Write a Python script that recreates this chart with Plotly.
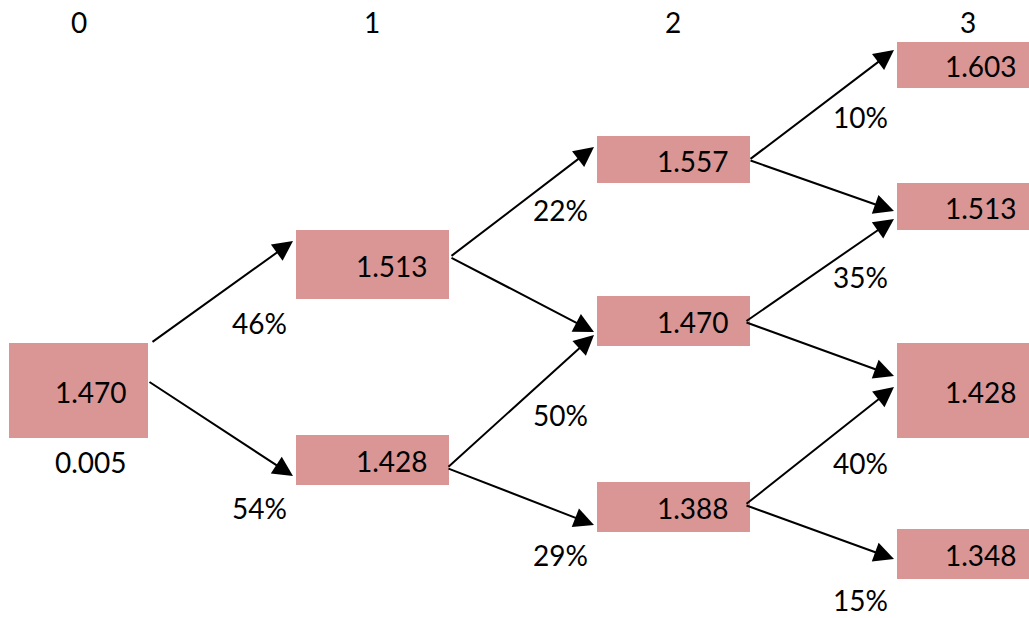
import plotly.graph_objects as go

# ---------------- DATA ----------------
level_labels = ["0", "1", "2", "3"]
node_values = [
    [1.470],
    [1.513, 1.428],
    [1.557, 1.470, 1.388],
    [1.603, 1.513, 1.428, 1.348],
]
node_probs = [
    [None],
    [46, 54],
    [22, 50, 29],
    [10, 35, 40, 15],
]
root_note = "0.005"

# ---------------- LAYOUT (positions / sizes / styles) ----------------
W, H = 1029, 618
col_left = [9, 296, 597, 897]
col_right = [148, 449, 750, 1040]
text_right = [129, 430, 731, 1019]
header_x = [79, 372, 673, 968]
header_y = 22
box_top = [[343], [230, 435], [136, 296, 482], [42, 183, 343, 529]]
box_bot = [[438], [299, 485], [183, 346, 532], [88, 230, 438, 579]]
# arrow anchors: (start y on parent, end y on child) for child i and i+1
arrow_start = [[(343, 381)], [(257, 257), (468, 468)],
               [(160, 160), (322, 322), (505, 505)]]
arrow_end = [[(241, 476)], [(147, 332), (335, 525)],
             [(50, 211), (219, 376), (387, 559)]]
start_x = [[(151, 148)], [(450, 450), (447, 447)],
           [(749, 749), (745, 745), (745, 745)]]
end_x_off = 3
prob_x_right = [None, 289, 590, 890]
prob_y = [[None], [323, 508], [210, 415, 555], [117, 277, 463, 600]]
root_note_y = 462

BOX_COLOR = "#D99694"
FONT = dict(family="Lato, 'Noto Sans', sans-serif", size=28, color="black")

fig = go.Figure()
shapes = []
annotations = []

for h, txt in zip(header_x, level_labels):
    annotations.append(dict(x=h, y=header_y, text=txt, showarrow=False,
                            xanchor="center", yanchor="middle", font=FONT))

for lv, vals in enumerate(node_values):
    for i, v in enumerate(vals):
        t, b = box_top[lv][i], box_bot[lv][i]
        shapes.append(dict(type="rect", xref="x", yref="y",
                           x0=col_left[lv], x1=col_right[lv], y0=t, y1=b,
                           fillcolor=BOX_COLOR, line=dict(width=0), layer="below"))
        annotations.append(dict(x=text_right[lv], y=(t + b) / 2 + 1, text=f"{v:.3f}",
                                showarrow=False, xanchor="right", yanchor="middle",
                                font=FONT))
        p = node_probs[lv][i]
        if p is not None:
            annotations.append(dict(x=prob_x_right[lv], y=prob_y[lv][i], text=f"{p}%",
                                    showarrow=False, xanchor="right", yanchor="middle",
                                    font=FONT))

annotations.append(dict(x=text_right[0], y=root_note_y, text=root_note, showarrow=False,
                        xanchor="right", yanchor="middle", font=FONT))

# arrows: node i at level lv -> nodes i and i+1 at level lv+1
for lv in range(len(node_values) - 1):
    for i in range(len(node_values[lv])):
        for k in range(2):
            annotations.append(dict(
                x=col_left[lv + 1] - end_x_off, y=arrow_end[lv][i][k],
                ax=start_x[lv][i][k], ay=arrow_start[lv][i][k],
                xref="x", yref="y", axref="x", ayref="y",
                text="", showarrow=True, arrowhead=2, arrowsize=2,
                arrowwidth=2, arrowcolor="black", standoff=0))

fig.update_layout(
    width=W, height=H,
    margin=dict(l=0, r=0, t=0, b=0),
    paper_bgcolor="white", plot_bgcolor="white",
    xaxis=dict(range=[0, W], visible=False, fixedrange=True),
    yaxis=dict(range=[H, 0], visible=False, fixedrange=True),
    shapes=shapes, annotations=annotations, showlegend=False,
)

fig.write_html("out.html", config={"displayModeBar": False},
               post_script="document.body.style.margin='0';document.body.style.overflow='hidden';")
